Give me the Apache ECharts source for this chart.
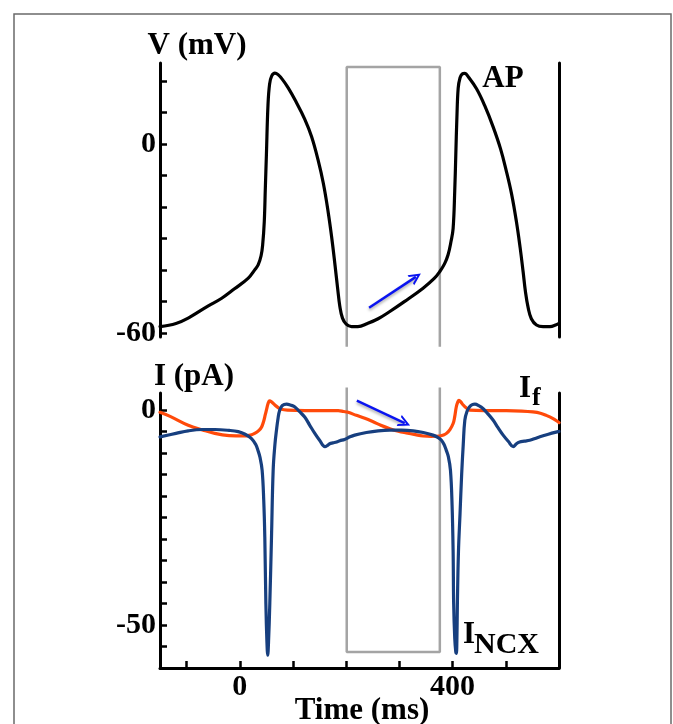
<!DOCTYPE html>
<html>
<head>
<meta charset="utf-8">
<script src="https://cdn.jsdelivr.net/npm/echarts@6/dist/echarts.min.js"></script>
<style>
html,body{margin:0;padding:0;background:#fff;}
#chart{width:673px;height:724px;}
</style>
</head>
<body>
<div id="chart"></div>
<script>
// ---- Data ----
// Action potential: time (ms), membrane voltage (mV)
var apTime = [-150,-120,-97,-60,-34,-10,16,28,34.5,40,43,46,48,50,53,56,60,66,72,80,91,105,122,135,147,157,166,173,179,184,188,193,200,210,222,240,260,282,310,344.5,365,376,385,391.5,397,401,404,406,408,410.5,414,418,423,430,445,460,476,490,501,511,520,527,532.5,537,542,548,557.7,570,583,595,600];
var apV    = [-58,-57,-55.3,-51.5,-49,-46,-42.6,-40,-38.4,-35.5,-32,-24.7,-14,-3.5,12.4,19,21.6,22.5,22,20.5,17.8,13.6,7.9,2.3,-5,-12.5,-21.5,-30,-38.5,-46,-51.5,-55.3,-57.2,-58,-58,-57,-55.5,-53.2,-50,-45.8,-42.8,-40.5,-38,-35.2,-31,-26.8,-15,-3.5,8,17.7,21,22.2,22.4,21.2,17.5,12.3,5.5,-1.5,-8.6,-16,-24.7,-33,-40.5,-47,-52,-55.5,-57.5,-58,-58,-57.4,-57];

// Funny current If: time (ms), current (pA)
var ifTime = [-150,-130,-97,-70,-47,-20,9,20,28,36,41,45,48,50,53,56,60,66,72,78,90,122,150,185,195,203.6,219,235,250.6,265,282,298,313,330,344.5,360,376,383,388.5,395,401,404,407,410,412,415,420,426,432,460,501,530,551,565,576,588,598,600];
var ifI    = [-0.5,-1.5,-3.5,-4.6,-5.4,-5.9,-6.0,-5.8,-5.4,-4.7,-3.9,-2.5,-1,0,1.5,2.2,1.9,1.2,0.6,0.2,0,-0.1,-0.1,-0.1,-0.3,-0.5,-1.2,-1.9,-2.7,-3.5,-4.3,-4.9,-5.3,-5.7,-6.0,-6.1,-6.0,-5.8,-5.4,-4.5,-3.1,-1.5,0.8,2.0,2.3,2.0,1.2,0.5,0,-0.1,-0.1,-0.2,-0.4,-0.7,-1.2,-1.9,-2.7,-2.9];

// Na/Ca exchanger current INCX: time (ms), current (pA)
var ncxTime = [-150,-120,-97,-70,-47,-20,-3,10,22,30,34,38,42,45,47,49,51,52.5,54,56.4,59.6,62.7,66,69,72,75,80,88,95,103,112,122,131,141,150,160,165,169,175,182,188,197,207,216,238,260,282,304,326,345,363,372,379,384,388,392,396,399,401,402,404,406,407,408,409,411,414,417,420,423,427,432,437,442,450,457,466,476,485,495,505,514,520,526,535,545,555,564,580,598,600];
var ncxI    = [-6.2,-5.4,-4.8,-4.5,-4.5,-4.7,-5.0,-5.6,-6.6,-8,-9.3,-11,-14,-21,-29.5,-45,-54,-57,-54,-45,-29.5,-14,-8,-4.6,-1.8,0,1.1,1.4,1.2,0.8,-0.3,-1.6,-3.4,-5.4,-7,-8.5,-8.2,-7.8,-7.6,-7.4,-7.1,-6.8,-6.2,-5.8,-5.2,-4.8,-4.65,-4.65,-4.8,-5.2,-5.8,-6.3,-7,-8,-9.3,-10.8,-14,-22,-33,-45,-53,-56.3,-56.6,-54,-45,-33,-24,-15,-8,-2.3,-0.3,0.8,1.3,1.4,1.0,0.4,-0.8,-2.3,-4,-5.8,-7.3,-8.5,-7.8,-7.4,-7.2,-7,-6.6,-6.2,-5.6,-5.0,-4.95];

// Highlight window (gray box), ms
var boxTime = [201, 376];
var boxV = [-64.4, 24.4];   // top panel: open bottom edge, top edge
var boxI = [5.3, -56.3];    // bottom panel: open top edge, bottom edge

// Blue trend arrows [start, end] as [time, value]
var arrowV = [[243, -52], [331, -42.2]];
var arrowI = [[220, 2.2], [310, -3.0]];

// Axis ticks and labels
var timeTicks = [-100, 0, 100, 200, 300, 400, 500];
var timeLabels = [0, 400];
var vTicks = [-60, -50, -40, -30, -20, -10, 0, 10, 20];
var vLabels = [-60, 0];
var iTicks = [-55, -50, -45, -40, -35, -30, -25, -20, -15, -10, -5, 0];
var iLabels = [-50, 0];

function zip(a, b) { return a.map(function (v, k) { return [v, b[k]]; }); }

var FONT = 'Liberation Serif';
var chart = echarts.init(document.getElementById('chart'), null, {renderer: 'canvas'});

var axisLbl = {fontFamily: FONT, fontWeight: 'bold', fontSize: 30, color: '#000'};
var arrowPath = 'path://M5,0 L10,10 L8.2,10 L5,3.6 L1.8,10 L0,10 Z';
function txt(s, x, y, size, align) {
  return {type: 'text', x: x, y: y, z: 10,
    style: {text: s, font: 'bold ' + size + 'px "Liberation Serif"', fill: '#000', align: align || 'center', verticalAlign: 'middle'}};
}

var option = {
  animation: false,
  backgroundColor: '#fff',
  grid: [
    {left: 160, top: 63, width: 399, height: 274},
    {left: 160, top: 393, width: 399, height: 275}
  ],
  xAxis: [
    {gridIndex: 0, type: 'value', min: -150, max: 600, show: false},
    {gridIndex: 1, type: 'value', min: -150, max: 600,
      axisLine: {show: true, onZero: false, lineStyle: {color: '#000', width: 3}},
      axisTick: {show: true, inside: true, length: 7, lineStyle: {color: '#000', width: 2.5}, customValues: timeTicks},
      axisLabel: Object.assign({margin: 4, customValues: timeLabels}, axisLbl),
      splitLine: {show: false}}
  ],
  yAxis: [
    {gridIndex: 0, type: 'value', min: -61.3, max: 25.7,
      axisLine: {show: true, onZero: false, lineStyle: {color: '#000', width: 3}},
      axisTick: {show: true, inside: true, length: 7, lineStyle: {color: '#000', width: 2.5}, customValues: vTicks},
      axisLabel: Object.assign({margin: 4, customValues: vLabels}, axisLbl),
      splitLine: {show: false}},
    {gridIndex: 0, type: 'value', position: 'right', min: -61.3, max: 25.7,
      axisLine: {show: true, onZero: false, lineStyle: {color: '#000', width: 3}},
      axisTick: {show: false}, axisLabel: {show: false}, splitLine: {show: false}},
    {gridIndex: 1, type: 'value', min: -60, max: 4,
      axisLine: {show: true, onZero: false, lineStyle: {color: '#000', width: 3}},
      axisTick: {show: true, inside: true, length: 7, lineStyle: {color: '#000', width: 2.5}, customValues: iTicks},
      axisLabel: Object.assign({margin: 4, customValues: iLabels}, axisLbl),
      splitLine: {show: false}},
    {gridIndex: 1, type: 'value', position: 'right', min: -60, max: 4,
      axisLine: {show: true, onZero: false, lineStyle: {color: '#000', width: 3}},
      axisTick: {show: false}, axisLabel: {show: false}, splitLine: {show: false}}
  ],
  series: [
    {type: 'line', xAxisIndex: 0, yAxisIndex: 0, clip: false, z: 1, silent: true,
      data: [[boxTime[0], boxV[0]], [boxTime[0], boxV[1]], [boxTime[1], boxV[1]], [boxTime[1], boxV[0]]],
      showSymbol: false, symbol: 'none', lineStyle: {color: '#a4a4a4', width: 2.5}},
    {type: 'line', xAxisIndex: 1, yAxisIndex: 2, clip: false, z: 1, silent: true,
      data: [[boxTime[0], boxI[0]], [boxTime[0], boxI[1]], [boxTime[1], boxI[1]], [boxTime[1], boxI[0]]],
      showSymbol: false, symbol: 'none', lineStyle: {color: '#a4a4a4', width: 2.5}},
    {name: 'AP', type: 'line', xAxisIndex: 0, yAxisIndex: 0, z: 3, data: zip(apTime, apV),
      smooth: 0.4, symbol: 'none', lineStyle: {color: '#000', width: 3.2, join: 'round', cap: 'round'}},
    {name: 'If', type: 'line', xAxisIndex: 1, yAxisIndex: 2, z: 3, data: zip(ifTime, ifI),
      smooth: 0.4, symbol: 'none', lineStyle: {color: '#ff4a0a', width: 3.2, join: 'round', cap: 'round'}},
    {name: 'INCX', type: 'line', xAxisIndex: 1, yAxisIndex: 2, z: 4, data: zip(ncxTime, ncxI),
      smooth: 0.4, symbol: 'none', lineStyle: {color: '#173f7f', width: 3.2, join: 'round', cap: 'round'}},
    {type: 'lines', coordinateSystem: 'cartesian2d', xAxisIndex: 0, yAxisIndex: 0, z: 5,
      symbol: ['none', arrowPath], symbolSize: 12,
      lineStyle: {color: '#0a14f0', width: 2.5, opacity: 1, shadowBlur: 3, shadowColor: 'rgba(0,0,0,0.35)', shadowOffsetY: 2},
      data: [{coords: arrowV}]},
    {type: 'lines', coordinateSystem: 'cartesian2d', xAxisIndex: 1, yAxisIndex: 2, z: 5,
      symbol: ['none', arrowPath], symbolSize: 12,
      lineStyle: {color: '#0a14f0', width: 2.5, opacity: 1, shadowBlur: 3, shadowColor: 'rgba(0,0,0,0.35)', shadowOffsetY: 2},
      data: [{coords: arrowI}]}
  ],
  graphic: [
    {type: 'rect', silent: true, z: 0, shape: {x: 14, y: 14, width: 657, height: 740},
      style: {fill: 'none', stroke: '#6a6a6a', lineWidth: 1.5}},
    txt('V (mV)', 197, 46, 31),
    txt('AP', 503, 79, 31),
    txt('I (pA)', 194, 377, 31),
    txt('I', 519, 389, 31, 'left'),
    txt('f', 532, 398, 26, 'left'),
    txt('I', 463, 635, 31, 'left'),
    txt('NCX', 474, 645, 30, 'left'),
    txt('Time (ms)', 362, 711, 31)
  ]
};
chart.setOption(option);
</script>
</body>
</html>
